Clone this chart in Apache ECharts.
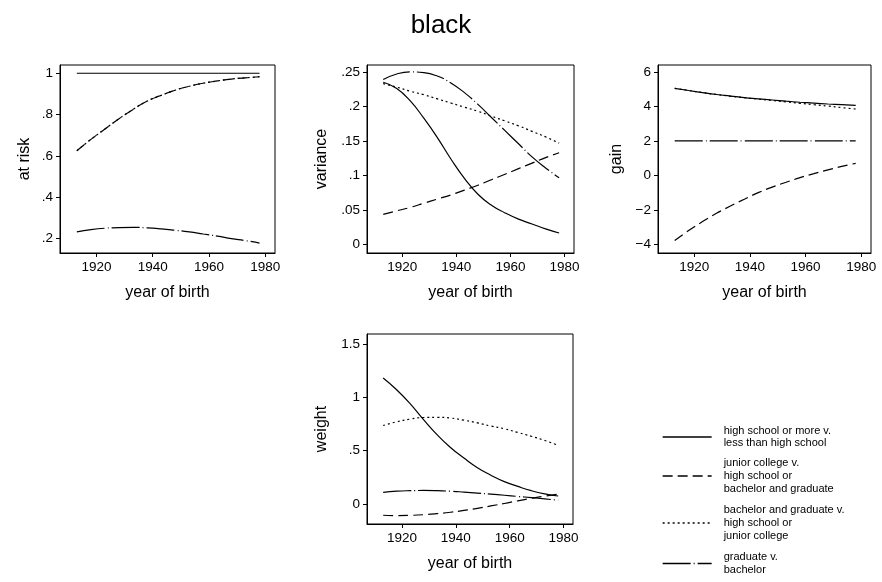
<!DOCTYPE html>
<html><head><meta charset="utf-8">
<script src="https://cdn.jsdelivr.net/npm/echarts@6/dist/echarts.min.js"></script>
<style>html,body{margin:0;padding:0;background:#fff}#c{width:882px;height:582px}</style>
</head><body><div id="c"></div>
<script>
const years = [1913,1918,1923,1928,1933,1938,1943,1948,1953,1958,1963,1968,1973,1978];
const seriesNames = [
  "high school or more v.\nless than high school",
  "junior college v.\nhigh school or\nbachelor and graduate",
  "bachelor and graduate v.\nhigh school or\njunior college",
  "graduate v.\nbachelor"
];
// at risk
const atRiskHS   = [1,1,1,1,1,1,1,1,1,1,1,1,1,1];
const atRiskJC   = [.625,.68,.73,.78,.825,.865,.893,.918,.937,.952,.963,.972,.978,.983];
const atRiskBA   = [.625,.68,.73,.78,.825,.865,.893,.918,.937,.952,.963,.972,.978,.983];
const atRiskGR   = [.232,.243,.25,.253,.254,.252,.247,.24,.232,.222,.212,.2,.19,.178];
// variance
const varHS = [.235,.226,.208,.183,.155,.124,.096,.073,.057,.046,.037,.030,.023,.017];
const varJC = [.044,.049,.054,.06,.066,.072,.079,.086,.094,.102,.11,.118,.126,.133];
const varBA = [.233,.228,.222,.217,.211,.205,.199,.193,.186,.179,.172,.164,.156,.147];
const varGR = [.239,.247,.25,.249,.244,.234,.22,.203,.184,.165,.146,.127,.111,.097];
// gain
const gainHS = [5.05,4.92,4.8,4.69,4.6,4.51,4.44,4.37,4.3,4.24,4.19,4.14,4.1,4.06];
const gainJC = [-3.78,-3.2,-2.68,-2.2,-1.78,-1.38,-1.0,-0.68,-0.4,-0.13,0.1,0.32,0.52,0.7];
const gainBA = [5.05,4.92,4.8,4.69,4.59,4.5,4.42,4.34,4.26,4.18,4.1,4.02,3.93,3.85];
const gainGR = [2,2,2,2,2,2,2,2,2,2,2,2,2,2];
// weight
const wHS = [1.18,1.07,.94,.79,.65,.53,.43,.34,.27,.21,.165,.125,.095,.075];
const wJC = [-.105,-.108,-.106,-.1,-.09,-.077,-.06,-.04,-.018,.005,.03,.053,.074,.092];
const wBA = [.735,.77,.795,.81,.812,.805,.785,.76,.73,.705,.67,.635,.595,.55];
const wGR = [.11,.12,.125,.127,.125,.12,.112,.103,.093,.082,.071,.06,.048,.036];

const xTicks = [1920,1940,1960,1980];
const yTicks1 = [.2,.4,.6,.8,1];
const yTicks2 = [0,.05,.1,.15,.2,.25];
const yTicks3 = [-4,-2,0,2,4,6];
const yTicks4 = [0,.5,1,1.5];

const FONT = "'Liberation Sans', Arial, Helvetica, sans-serif";
const dashTypes = ['solid', [10,5], [2,3], [28,3,1,3]];

function fmt(v){
  let r = Math.round(v*1000)/1000;
  let s = String(r);
  if (s.startsWith('0.')) s = s.slice(1);
  if (s.startsWith('-0.')) s = '-' + s.slice(2);
  return s.replace('-', '\u2212');
}

const grids = [
  {left:60, top:65, width:215, height:188},
  {left:367, top:65, width:207, height:188},
  {left:658, top:65, width:213, height:188},
  {left:367, top:334, width:206, height:190}
];
const yRanges = [[.13,1.04],[-.012,.26],[-4.5,6.4],[-.187,1.592]];
const yTickSets = [yTicks1,yTicks2,yTicks3,yTicks4];
const yNames = ['at risk','variance','gain','weight'];
const yNameGaps = [27,37,33,37];
const panelData = [
  [atRiskHS,atRiskJC,atRiskBA,atRiskGR],
  [varHS,varJC,varBA,varGR],
  [gainHS,gainJC,gainBA,gainGR],
  [wHS,wJC,wBA,wGR]
];

const xAxes = [], yAxes = [], series = [];
grids.forEach((g,i)=>{
  xAxes.push({
    type:'value', gridIndex:i, min:1907, max:1983.5,
    name:'year of birth', nameLocation:'middle', nameGap:32,
    nameTextStyle:{fontFamily:FONT,fontSize:16,color:'#000'},
    axisLine:{show:true,onZero:false,lineStyle:{color:'#000',width:1}},
    axisTick:{show:true,inside:false,length:4,customValues:xTicks,lineStyle:{color:'#000'}},
    axisLabel:{customValues:xTicks,margin:7,fontFamily:FONT,fontSize:13.5,color:'#000',formatter:v=>String(v)},
    splitLine:{show:false}
  });
  yAxes.push({
    type:'value', gridIndex:i, min:yRanges[i][0], max:yRanges[i][1],
    name:yNames[i], nameLocation:'middle', nameGap:yNameGaps[i], nameRotate:90,
    nameTextStyle:{fontFamily:FONT,fontSize:16,color:'#000'},
    axisLine:{show:true,onZero:false,lineStyle:{color:'#000',width:1}},
    axisTick:{show:true,inside:false,length:4,customValues:yTickSets[i],lineStyle:{color:'#000'}},
    axisLabel:{customValues:yTickSets[i],margin:7,fontFamily:FONT,fontSize:13.5,color:'#000',formatter:fmt},
    splitLine:{show:false}
  });
  panelData[i].forEach((vals,k)=>{
    series.push({
      type:'line', name:seriesNames[k], xAxisIndex:i, yAxisIndex:i,
      data: years.map((y,j)=>[y, vals[j]]),
      symbol:'none', smooth:true, silent:true, animation:false,
      lineStyle:{color:'#000', width:1.2, type:dashTypes[k]},
      itemStyle:{color:'#000'}
    });
  });
});

const LH = 12.7;
const legendCenters = [437, 476, 523, 563.5];
const legendLines = [2,3,3,2];
const legends = seriesNames.map((n,k)=>({
  data:[n], left:662, top: legendCenters[k] - legendLines[k]*LH/2, padding:0,
  orient:'vertical', itemWidth:49, itemHeight:12, itemGap:0,
  selectedMode:false,
  itemStyle:{color:'rgba(0,0,0,0)', borderWidth:0, opacity:0},
  lineStyle:{width:1.3, color:'#000'},
  textStyle:{fontFamily:FONT,fontSize:11,color:'#000',lineHeight:LH,padding:[0,0,0,7]}
}));

const chart = echarts.init(document.getElementById('c'), null, {renderer:'canvas'});
chart.setOption({
  backgroundColor:'#fff',
  animation:false,
  title:{text:'black', left:'center', top:8, textStyle:{fontFamily:FONT,fontSize:26,fontWeight:'normal',color:'#000'}},
  legend: legends,
  grid: grids.map(g=>Object.assign({show:true,borderColor:'#000',borderWidth:1,backgroundColor:'transparent',containLabel:false},g)),
  xAxis:xAxes, yAxis:yAxes, series:series
});
</script></body></html>
